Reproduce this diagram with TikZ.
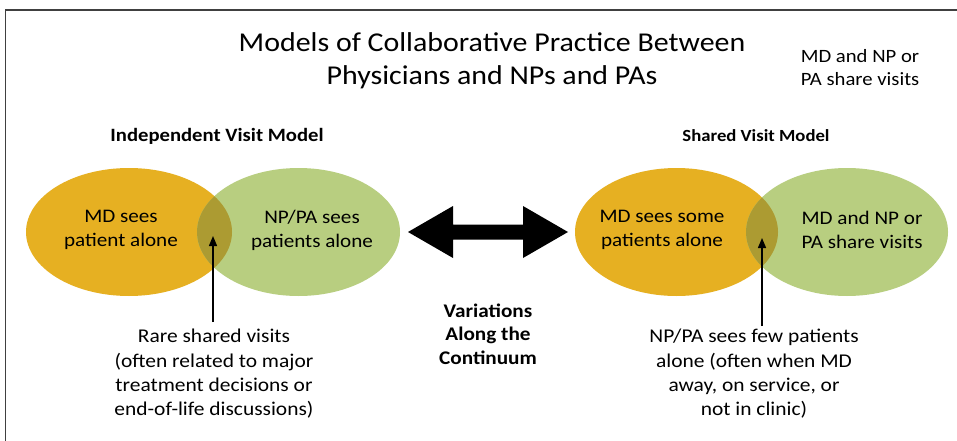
\documentclass[tikz,border=0pt]{standalone}
\usepackage{fontspec}
\setmainfont{Carlito}[FakeStretch=1.1]
\usetikzlibrary{shapes.geometric,arrows.meta}
\definecolor{mdorange}{RGB}{230,176,34}
\definecolor{npgreen}{RGB}{184,206,128}
\definecolor{overlapc}{RGB}{172,155,50}
\definecolor{framec}{RGB}{64,64,64}
\tikzset{
  blob/.style={ellipse, draw=none, inner sep=0pt, minimum width=204pt, minimum height=128pt},
  intext/.style={align=center, font=\fontsize{19.2}{24}\selectfont, inner sep=0pt},
  captext/.style={align=center, font=\fontsize{19.5}{24.3}\selectfont, inner sep=0pt},
  modeltitle/.style={font=\fontsize{18.8}{21}\selectfont\bfseries, inner sep=0pt},
  pointer/.style={line width=1.4pt, -{Triangle[length=10pt,width=8pt]}},
}
\begin{document}
\begin{tikzpicture}[x=1pt,y=-1pt]
\useasboundingbox (0,0) rectangle (957,441);
\fill[white] (0,0) rectangle (957,441);
% frame
\draw[framec, line width=1.6pt] (5.5,445) -- (5.5,10) -- (960,10);

% titles
\node[align=center, font=\fontsize{27.2}{33}\selectfont, inner sep=0pt] (title) at (492,61) {Models of Collaborative Practice Between\\Physicians and NPs and PAs};
\node[align=center, font=\fontsize{18.8}{23}\selectfont, inner sep=0pt] (note) at (860,68) {MD and NP or\\PA share visits};
\node[modeltitle] (indep) at (217,136) {Independent Visit Model};
\node[modeltitle, font=\fontsize{17}{21}\selectfont\bfseries] (shared) at (756,136) {Shared Visit Model};

% left venn
\node[blob, fill=mdorange, minimum width=206pt] (mdL) at (129,232) {};
\node[blob, fill=npgreen, minimum width=203pt] (npL) at (298.5,232) {};
\begin{scope}
  \clip (129,232) ellipse [x radius=103, y radius=64];
  \fill[overlapc] (298.5,232) ellipse [x radius=101.5, y radius=64];
\end{scope}
% right venn
\node[blob, fill=mdorange, minimum width=203pt] (mdR) at (676.5,232) {};
\node[blob, fill=npgreen, minimum width=202pt] (npR) at (847,232) {};
\begin{scope}
  \clip (676.5,232) ellipse [x radius=101.5, y radius=64];
  \fill[overlapc] (847,232) ellipse [x radius=101, y radius=64];
\end{scope}

% ellipse texts
\node[intext] (t1) at (121,230) {MD sees\\patient alone};
\node[intext] (t2) at (312,230) {NP/PA sees\\patients alone};
\node[intext] (t3) at (662,230) {MD sees some\\patients alone};
\node[intext] (t4) at (862,230) {MD and NP or\\PA share visits};

% double arrow
\fill[black] (408,232) -- (453,206) -- (453,224.5) -- (523,224.5) -- (523,206) -- (568,232)
  -- (523,258) -- (523,239.5) -- (453,239.5) -- (453,258) -- cycle;

% pointers
\coordinate (pL) at (213,236);
\coordinate (pR) at (762,238);
\coordinate (sL) at (213,322);
\coordinate (sR) at (762,326);
\draw[pointer] (sL) -- (pL);
\draw[pointer] (sR) -- (pR);

% captions
\node[captext] (c1) at (214,374) {Rare shared visits\\(often related to major\\treatment decisions or\\end-of-life discussions)};
\node[captext] (c2) at (754,374) {NP/PA sees few patients\\alone (often when MD\\away, on service, or\\not in clinic)};
\node[align=center, font=\fontsize{19.3}{23.5}\selectfont\bfseries, inner sep=0pt] (var) at (488,334) {Variations\\Along the\\Continuum};
\end{tikzpicture}
\end{document}
